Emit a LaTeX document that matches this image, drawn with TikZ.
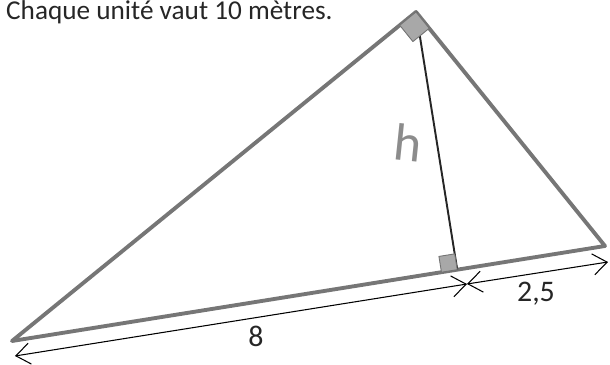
\documentclass[tikz,border=0pt]{standalone}
\usepackage{fontspec}
\setmainfont{Carlito}
\usetikzlibrary{arrows.meta,calc}
\definecolor{sidegray}{RGB}{118,118,118}
\definecolor{markgray}{RGB}{168,168,168}
\tikzset{side/.style={line width=2.2pt,sidegray,line join=round,line cap=round},
 heightline/.style={line width=1.1pt,black!85},
 dimline/.style={{Straight Barb[length=8pt,width=12pt]}-{Straight Barb[length=8pt,width=12pt]},line width=.6pt},
 rightmark/.style={fill=markgray,draw=black!55,line width=.5pt,line join=round},
 every node/.style={font=\fontsize{17}{19}\selectfont,text=black!85}}

\begin{document}
\begin{tikzpicture}[x=0.02cm,y=-0.02cm]
\useasboundingbox (0,0) rectangle (610,365);
\coordinate (A) at (12,341);
\coordinate (B) at (605,246);
\coordinate (C) at (416,12);
\coordinate (H) at ($(A)!(C)!(B)$);
\coordinate (L) at (15,356);
\coordinate (M) at (467,284);
\coordinate (R) at (608,262);
\node[anchor=base west,font=\fontsize{15.5}{18}\selectfont] (title) at (0,19) {Chaque unité vaut 10 mètres.};
\draw[side] (A) -- (B) -- (C) -- cycle;
\draw[heightline] (C) -- (H);
% right angles
\coordinate (Ca) at ($(C)!0.42cm!(A)$);
\coordinate (Cb) at ($(C)!0.42cm!(B)$);
\filldraw[rightmark] (C) -- (Ca) -- ($(Ca)+(Cb)-(C)$) -- (Cb) -- cycle;
\coordinate (Ha) at ($(H)!0.32cm!(A)$);
\coordinate (Hc) at ($(H)!0.32cm!(C)$);
\filldraw[rightmark] (H) -- (Ha) -- ($(Ha)+(Hc)-(H)$) -- (Hc) -- cycle;
\draw[dimline] (L) -- (M);
\draw[dimline] (M) -- (R);
\node (eight) at (256,336) {8};
\node (twofive) at (536,294) {2,5};
\node[text=black!45,font=\fontsize{30}{32}\selectfont,rotate=-6] (h) at (408,143) {h};
\end{tikzpicture}
\end{document}
